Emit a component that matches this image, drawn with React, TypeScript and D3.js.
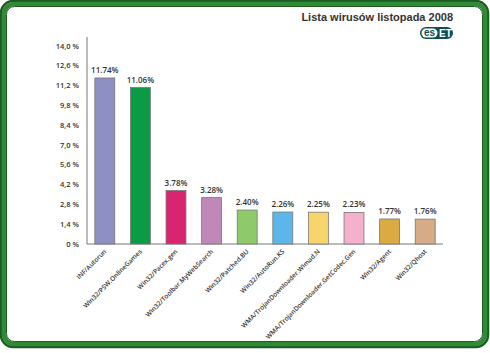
import React from 'react';
import * as d3 from 'd3';

const categories = [
  'INF/Autorun',
  'Win32/PSW.OnlineGames',
  'Win32/Pacex.gen',
  'Win32/Toolbar.MyWebSearch',
  'Win32/Patched.BU',
  'Win32/AutoRun.KS',
  'WMA/TrojanDownloader.Wimad.N',
  'WMA/TrojanDownloader.GetCodec.Gen',
  'Win32/Agent',
  'Win32/Qhost',
];
const values = [11.74, 11.06, 3.78, 3.28, 2.4, 2.26, 2.25, 2.23, 1.77, 1.76];
const colours = ['#8e8fc2', '#0b9b45', '#d9246f', '#c087b9', '#8ec96a', '#5db6e9', '#f8d46c', '#f4b0cd', '#dcaa42', '#d5ab88'];
const ticks = [0, 1.4, 2.8, 4.2, 5.6, 7.0, 8.4, 9.8, 11.2, 12.6, 14.0];

const W = 490;
const H = 353;

const fmtTick = (t: number) => (t === 0 ? '0 %' : t.toFixed(1).replace('.', ',') + ' %');

const App: React.FC = () => {
  const x = d3.scaleBand<string>().domain(categories).range([87, 443]).paddingInner(0.44).paddingOuter(0.22);
  const y = d3.scaleLinear().domain([0, 14]).range([244, 46]);
  const labelFont = '"Open Sans", "Liberation Sans", sans-serif';

  return (
    <svg width={W} height={H} style={{ position: 'absolute', left: 0, top: 0, background: '#fff' }}>
      {/* frame */}
      <rect x={1} y={1} width={487} height={346} rx={12} fill="#fff" stroke="#1d5a22" strokeWidth={2.5} />
      <rect x={4} y={4} width={481} height={340} rx={10} fill="none" stroke="#2f8a35" strokeWidth={4.5} />
      <rect x={6.5} y={6.5} width={476} height={335} rx={8} fill="#fff" stroke="#1d5a22" strokeWidth={1} />

      {/* title */}
      <text x={453} y={21} textAnchor="end" fontFamily='"Liberation Sans", Arial, sans-serif' fontWeight="bold" fontSize={11} fill="#333">
        Lista wirusów listopada 2008
      </text>
      {/* logo */}
      <g>
        <rect x={420} y={27} width={33} height={12} rx={6} fill="#0f4f50" />
        <rect x={421.5} y={28.5} width={16} height={9} rx={4.5} fill="#fff" />
        <text x={429.5} y={36.3} textAnchor="middle" fontFamily='"Liberation Sans", Arial, sans-serif' fontWeight="bold" fontSize={10} fill="#0f4f50">es</text>
        <text x={445.5} y={36.5} textAnchor="middle" fontFamily='"Liberation Sans", Arial, sans-serif' fontWeight="bold" fontSize={10} fill="#fff">ET</text>
      </g>

      {/* axes */}
      <line x1={87} x2={87} y1={37} y2={244} stroke="#777" strokeWidth={1} />
      <line x1={87} x2={443} y1={244} y2={244} stroke="#777" strokeWidth={1} />
      {ticks.map((t) => (
        <text key={t} x={79} y={y(t)} dy="0.35em" textAnchor="end" fontFamily={labelFont} fontWeight={600} fontSize={7.5} fill="#333">
          {fmtTick(t)}
        </text>
      ))}

      {/* bars */}
      {categories.map((c, i) => {
        const bx = x(c) as number;
        const bw = x.bandwidth();
        const top = y(values[i]);
        return (
          <g key={c}>
            <rect x={bx} y={top} width={bw} height={244 - top} fill={colours[i]} stroke="#777" strokeWidth={0.8} />
            <text x={bx + bw / 2} y={top - 5} textAnchor="middle" fontFamily={labelFont} fontWeight={600} fontSize={8} fill="#333">
              {values[i].toFixed(2)}%
            </text>
            <text
              transform={`translate(${bx + bw / 2 + 2},${252}) rotate(-45)`}
              textAnchor="end"
              fontFamily={labelFont}
              fontWeight={600}
              fontSize={6.5}
              fill="#333"
            >
              {c}
            </text>
          </g>
        );
      })}
    </svg>
  );
};

export default App;
